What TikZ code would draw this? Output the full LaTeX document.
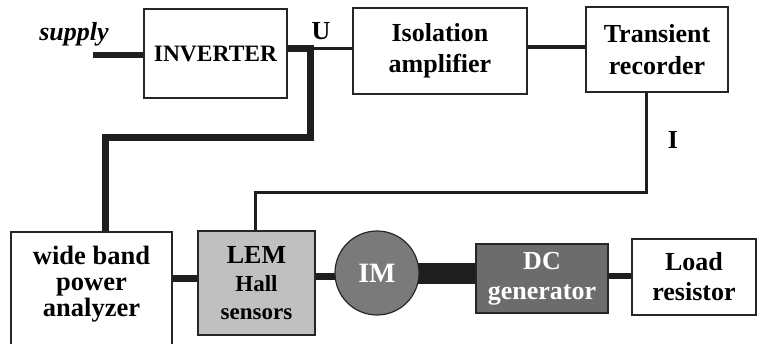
\documentclass[tikz,border=0pt]{standalone}
\usepackage{fontspec}
\setmainfont{Liberation Serif}[BoldFont={Liberation Serif Bold}, ItalicFont={Liberation Serif Italic}, BoldItalicFont={Liberation Serif Bold Italic}]
\usetikzlibrary{backgrounds}
\definecolor{lnc}{HTML}{1E1E1E}
\definecolor{lemc}{HTML}{C0C0C0}
\definecolor{imc}{HTML}{7A7A7A}
\definecolor{dcc}{HTML}{6C6C6C}
\tikzset{
  blk/.style={draw=black!85, line width=1.2pt, fill=white, inner sep=0pt, align=center,
    font=\rmfamily\bfseries\fontsize{26}{30}\selectfont},
  wire/.style={draw=lnc, line cap=butt, line join=miter},
  lbl/.style={inner sep=0pt, font=\rmfamily\bfseries\fontsize{26}{28}\selectfont},
}
\begin{document}
\begin{tikzpicture}[x=1pt,y=-1pt]
\useasboundingbox (0,0) rectangle (757,344);
% boxes
\node[blk, minimum width=143, minimum height=89, font=\rmfamily\bfseries\fontsize{23.5}{26}\selectfont] (inv) at (215.5,53.5) {INVERTER};
\node[blk, minimum width=174, minimum height=86, font=\rmfamily\bfseries\fontsize{26}{31}\selectfont] (iso) at (440,51) {Isolation\\amplifier};
\node[blk, minimum width=142, minimum height=85, font=\rmfamily\bfseries\fontsize{26}{32}\selectfont] (tr) at (657,49.5) {Transient\\recorder};
\node[blk, minimum width=161, minimum height=124] (wb) at (91.5,294) {};
\node[lbl, align=center, font=\rmfamily\bfseries\fontsize{26.5}{26}\selectfont, anchor=center] (wbt) at (91.5,284) {wide band\\power\\analyzer};
\node[blk, fill=lemc, minimum width=117, minimum height=104, font=\rmfamily\bfseries\fontsize{23}{28}\selectfont] (lem) at (256.5,283) {\fontsize{26}{31}\selectfont LEM\\Hall\\sensors};
\node[draw=black!85, line width=1.2pt, fill=imc, circle, minimum size=84, inner sep=0pt, text=white,
  font=\rmfamily\bfseries\fontsize{28}{30}\selectfont] (im) at (377,273) {IM};
\node[blk, fill=dcc, text=white, minimum width=132, minimum height=69] (dc) at (542,278.5) {DC\\generator};
\node[blk, minimum width=124, minimum height=76] (load) at (694,277) {Load\\resistor};
% labels
\node[lbl, font=\rmfamily\bfseries\itshape\fontsize{26}{28}\selectfont] (sl) at (74,34) {supply};
\node[lbl] (ul) at (321,31) {U};
\node[lbl] (il) at (673,140) {I};
% coordinates
\coordinate (sup) at (93,55);
\coordinate (j) at (310,49);
\coordinate (k) at (310,138);
\coordinate (m) at (105,138);
\coordinate (t1) at (646,193);
\coordinate (t2) at (255,193);
\begin{scope}[on background layer]
\draw[wire, line width=6pt] (sup) -- (sup -| inv.west);
\draw[wire, line width=7pt] (inv.east |- j) -- ([xshift=3.5pt]j) ;
\draw[wire, line width=7pt] ([yshift=3.5pt]j) -- (k) -- (m) -- (m |- wb.north);
\draw[wire, line width=3pt] (j) -- (j -| iso.west);
\draw[wire, line width=3.5pt] ([yshift=4pt]iso.east) -- ([yshift=4pt]iso.east -| tr.west);
\draw[wire, line width=3pt] (t1 |- tr.south) -- (t1) -- (t2) -- (t2 |- lem.north);
\draw[wire, line width=7pt] ([yshift=4pt]lem.west) -- ([yshift=4pt]lem.west -| wb.east);
\draw[wire, line width=7pt] ([yshift=6pt]lem.east) -- ([yshift=6pt]lem.east -| im.center);
\draw[wire, line width=21pt] ([yshift=5pt]dc.west) -- ([yshift=5pt]dc.west -| im.center);
\draw[wire, line width=6pt] ([yshift=2pt]dc.east) -- ([yshift=2pt]dc.east -| load.west);
\end{scope}
\end{tikzpicture}
\end{document}
